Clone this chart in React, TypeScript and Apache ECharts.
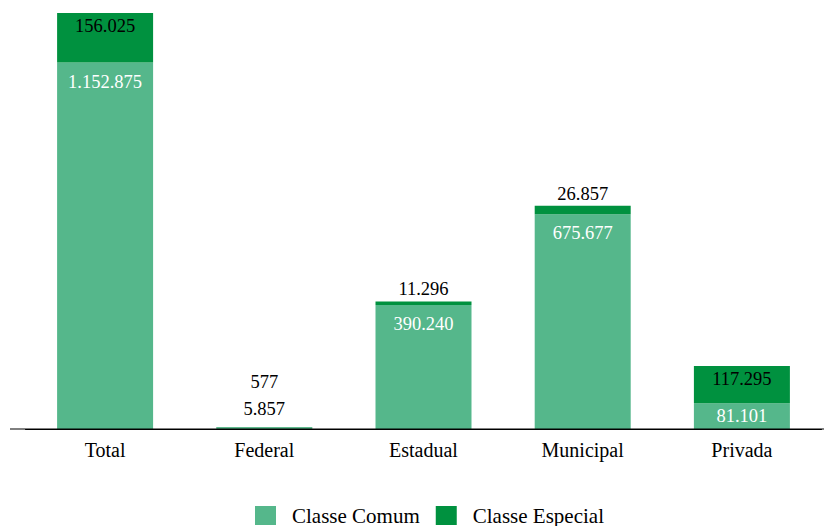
import React, { useEffect, useRef } from "react";
import * as echarts from "echarts";

const categories = ["Total", "Federal", "Estadual", "Municipal", "Privada"];
const classeComum = [1152875, 5857, 390240, 675677, 81101];
const classeEspecial = [156025, 577, 11296, 26857, 117295];

const FONT = "Liberation Serif, Times New Roman, serif";
const LIGHT = "#55B78B";
const DARK = "#00913F";
const LABEL_SIZE = 18.5;

const fmt = (v: number) => String(Math.round(v)).replace(/\B(?=(\d{3})+(?!\d))/g, ".");

export default function App() {
  const ref = useRef<HTMLDivElement>(null);
  useEffect(() => {
    if (!ref.current) return;
    const chart = echarts.init(ref.current, null, { renderer: "svg" });
    const total = classeComum[0] + classeEspecial[0];

    const comumData = classeComum.map((v) => {
      let label: any;
      if (v < 10000) {
        label = { position: "top", distance: 9, color: "#000" };
      } else if (v < 100000) {
        label = { position: "inside", color: "#fff" };
      } else {
        label = { position: "insideTop", distance: 9.5, color: "#fff" };
      }
      return { value: v, label };
    });
    const especialData = classeEspecial.map((v, i) => {
      let label: any;
      if (v > 100000) {
        label = { position: "insideTop", distance: 3.5, color: "#000" };
      } else if (classeComum[i] < 10000) {
        label = { position: "top", distance: 9, color: "#000", offset: [0, -26] };
      } else {
        label = { position: "top", distance: 2.5, color: "#000" };
      }
      return { value: v, label };
    });

    chart.setOption({
      animation: false,
      textStyle: { fontFamily: FONT },
      grid: { left: 25.5, right: 2.5, top: 13, bottom: 97, containLabel: false },
      legend: {
        top: 505,
        left: 255,
        padding: 0,
        icon: "rect",
        itemWidth: 21,
        itemHeight: 19,
        itemGap: 16,
        textStyle: { fontFamily: FONT, fontSize: 21, color: "#000", padding: [0, 0, 0, 11] },
        data: ["Classe Comum", "Classe Especial"],
      },
      xAxis: {
        type: "category",
        data: categories,
        axisLine: { show: true, lineStyle: { color: "#000", width: 1 } },
        axisTick: { show: false },
        axisLabel: { fontFamily: FONT, fontSize: 20, color: "#000", margin: 11 },
      },
      yAxis: {
        type: "value",
        min: 0,
        max: total,
        show: false,
        splitLine: { show: false },
      },
      graphic: [
        {
          type: "line",
          shape: { x1: 10, y1: 429, x2: 824, y2: 429 },
          style: { stroke: "#000", lineWidth: 1 },
          z: 10,
        },
      ],
      series: [
        {
          name: "Classe Comum",
          type: "bar",
          stack: "a",
          barWidth: 96,
          itemStyle: { color: LIGHT },
          label: {
            show: true,
            fontFamily: FONT,
            fontSize: LABEL_SIZE,
            formatter: (p: any) => fmt(p.value),
          },
          data: comumData,
        },
        {
          name: "Classe Especial",
          type: "bar",
          stack: "a",
          barWidth: 96,
          itemStyle: { color: DARK },
          label: {
            show: true,
            fontFamily: FONT,
            fontSize: LABEL_SIZE,
            formatter: (p: any) => fmt(p.value),
          },
          data: especialData,
        },
      ],
    });
    return () => chart.dispose();
  }, []);
  return (
    <div
      ref={ref}
      style={{ position: "fixed", left: 0, top: 0, width: 824, height: 526, background: "#fff" }}
    />
  );
}
